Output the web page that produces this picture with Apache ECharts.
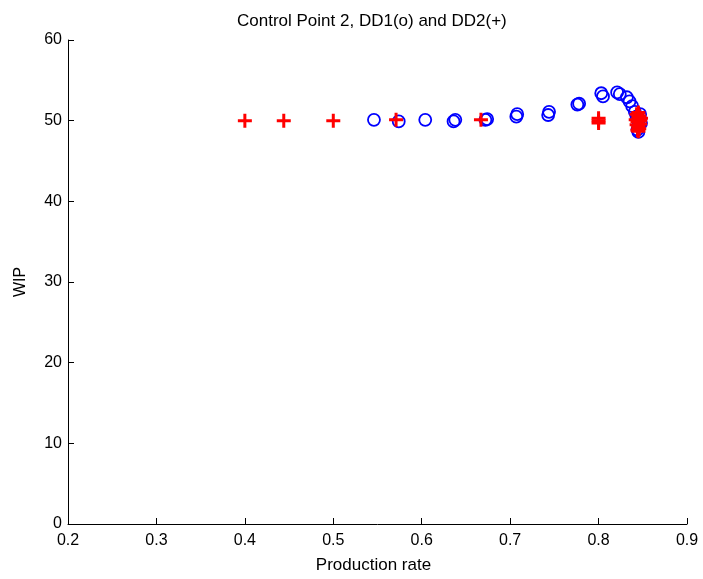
<!DOCTYPE html>
<html><head><meta charset="utf-8">
<script src="https://cdn.jsdelivr.net/npm/echarts@6/dist/echarts.min.js"></script>
<style>html,body{margin:0;padding:0;background:#fff}#c{width:703px;height:579px}</style>
</head><body><div id="c"></div>
<script>
const titleText = "Control Point 2, DD1(o) and DD2(+)";
const xTicks = [0.2, 0.3, 0.4, 0.5, 0.6, 0.7, 0.8, 0.9];
const yTicks = [0, 10, 20, 30, 40, 50, 60];
// DD1 (o): production rate, WIP
const dd1X = [0.546, 0.574, 0.604, 0.636, 0.638, 0.672, 0.674, 0.707, 0.708, 0.743, 0.744, 0.776, 0.778, 0.803, 0.805, 0.821, 0.824, 0.832, 0.835, 0.838, 0.841, 0.843, 0.845, 0.846, 0.844, 0.845, 0.847, 0.846, 0.848];
const dd1Y = [50.1, 49.9, 50.1, 49.9, 50.1, 50.1, 50.2, 50.5, 50.8, 50.7, 51.1, 52.0, 52.1, 53.4, 53.0, 53.5, 53.3, 52.9, 52.4, 51.8, 51.1, 50.5, 49.9, 49.4, 48.9, 48.6, 50.8, 50.2, 49.7];
// DD2 (+): production rate, WIP
const dd2X = [0.400, 0.444, 0.500, 0.571, 0.667, 0.800, 0.800, 0.800, 0.843, 0.845, 0.846, 0.844, 0.847, 0.845, 0.846, 0.844, 0.847, 0.843, 0.846, 0.845, 0.845, 0.845, 0.848, 0.842];
const dd2Y = [50.0, 50.0, 50.0, 50.1, 50.1, 50.3, 49.7, 50.0, 50.8, 50.5, 50.2, 49.9, 49.6, 49.3, 49.0, 48.8, 50.0, 49.5, 50.6, 49.1, 51.0, 48.7, 50.3, 50.1];

const plusPath = 'path://M5.5,0H8.5V5.5H14V8.5H8.5V14H5.5V8.5H0V5.5H5.5Z';
const font = '"Liberation Sans", Arial, Helvetica, sans-serif';
const chart = echarts.init(document.getElementById('c'), null, {renderer: 'canvas'});
chart.setOption({
  animation: false,
  backgroundColor: '#fff',
  title: {
    text: titleText, left: 232, top: 8,
    textStyle: {fontFamily: font, fontSize: 17, fontWeight: 'normal', color: '#000'}
  },
  grid: {left: 68, right: 16, top: 40, bottom: 55},
  xAxis: {
    type: 'value', min: xTicks[0], max: xTicks[xTicks.length - 1], interval: 0.1,
    name: 'Production rate', nameLocation: 'middle', nameGap: 33,
    nameTextStyle: {fontFamily: font, fontSize: 17, color: '#000', padding: [0, 8, 0, 0]},
    axisLine: {show: true, lineStyle: {color: '#000', width: 1}},
    axisTick: {show: true, inside: true, length: 6, lineStyle: {color: '#000'}},
    axisLabel: {fontFamily: font, fontSize: 16, color: '#000', margin: 9, formatter: v => v.toFixed(1)},
    splitLine: {show: false}
  },
  yAxis: {
    type: 'value', min: yTicks[0], max: yTicks[yTicks.length - 1], interval: 10,
    name: 'WIP', nameLocation: 'middle', nameGap: 39, nameRotate: 90,
    nameTextStyle: {fontFamily: font, fontSize: 16, color: '#000'},
    axisLine: {show: true, lineStyle: {color: '#000', width: 1}},
    axisTick: {show: true, inside: true, length: 6, lineStyle: {color: '#000'}},
    axisLabel: {fontFamily: font, fontSize: 16, color: '#000', margin: 6},
    splitLine: {show: false}
  },
  series: [
    {
      name: 'DD1', type: 'scatter', symbol: 'circle', symbolSize: 12,
      itemStyle: {color: 'rgba(0,0,0,0)', borderColor: '#0000ff', borderWidth: 1.8, opacity: 1},
      data: dd1X.map((x, i) => [x, dd1Y[i]])
    },
    {
      name: 'DD2', type: 'scatter', symbol: plusPath, symbolSize: 14,
      itemStyle: {color: '#ff0000', opacity: 1},
      data: dd2X.map((x, i) => [x, dd2Y[i]])
    }
  ]
});
</script></body></html>
